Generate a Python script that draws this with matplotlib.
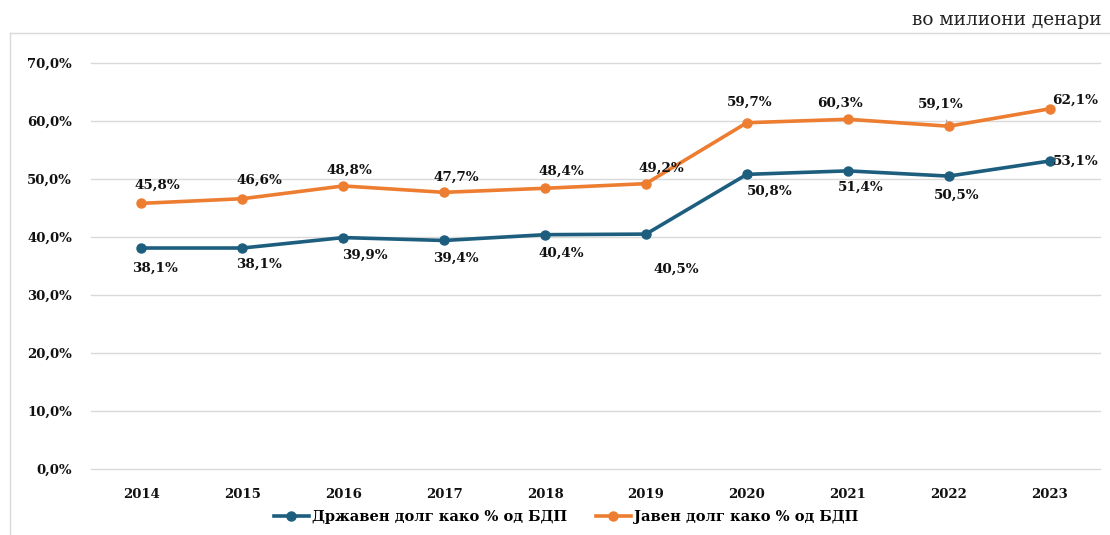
import matplotlib.pyplot as plt
from matplotlib.lines import Line2D

years = ['2014', '2015', '2016', '2017', '2018', '2019', '2020', '2021', '2022', '2023']
drzaven = [38.1, 38.1, 39.9, 39.4, 40.4, 40.5, 50.8, 51.4, 50.5, 53.1]
javen = [45.8, 46.6, 48.8, 47.7, 48.4, 49.2, 59.7, 60.3, 59.1, 62.1]
yticks = [0, 10, 20, 30, 40, 50, 60, 70]

BLUE = '#1d5e7e'
ORANGE = '#ed7d31'
FONT = 'DejaVu Serif'
FS = 9.7

# label offsets in pixels (dx, dy)
off_blue = [(14, -20), (17, -16), (22, -18), (12, -18), (16, -19),
            (30, -35), (23, -17), (13, -16), (8, -19), (26, 0)]
off_orange = [(16, 18), (17, 18), (6, 16), (12, 15), (16, 17),
              (15, 15), (3, 20), (-8, 16), (-8, 22), (26, 9)]

fig = plt.figure(figsize=(11.1, 5.35), dpi=100)
ax = fig.add_axes([91 / 1110, 66 / 535, 1009 / 1110, 406 / 535])

x = range(len(years))
ax.plot(x, drzaven, color=BLUE, lw=2.6, marker='o', ms=6.5, zorder=3)
ax.plot(x, javen, color=ORANGE, lw=2.6, marker='o', ms=6.5, zorder=3)

fmt = lambda v: f'{v:.1f}%'.replace('.', ',')
for i, v in enumerate(drzaven):
    ax.annotate(fmt(v), (i, v), xytext=off_blue[i], textcoords='offset pixels',
                ha='center', va='center', fontsize=FS, fontweight='bold',
                family=FONT, color='#111111')
for i, v in enumerate(javen):
    kw = {}
    if i in (6, 8):
        kw['arrowprops'] = dict(arrowstyle='-', color='#a6a6a6', lw=0.8,
                                shrinkA=5, shrinkB=2)
    ax.annotate(fmt(v), (i, v), xytext=off_orange[i], textcoords='offset pixels',
                ha='center', va='center', fontsize=FS, fontweight='bold',
                family=FONT, color='#111111', **kw)

ax.set_xlim(-0.5, len(years) - 0.5)
ax.set_ylim(0, 70)
ax.set_xticks(list(x))
ax.set_xticklabels(years)
ax.set_yticks(yticks)
ax.set_yticklabels([f'{t},0%' for t in yticks])
ax.grid(axis='y', color='#d9d9d9', lw=1)
for gl in ax.get_ygridlines():
    gl.set_clip_on(False)
ax.set_axisbelow(True)
for s in ax.spines.values():
    s.set_visible(False)
ax.tick_params(length=0)
ax.tick_params(axis='y', pad=13.5)
ax.tick_params(axis='x', pad=14)
for lab in ax.get_xticklabels() + ax.get_yticklabels():
    lab.set_fontfamily(FONT)
    lab.set_fontweight('bold')
    lab.set_fontsize(9.5)
    lab.set_color('#111111')

handles = [Line2D([], [], color=BLUE, lw=2.6, marker='o', ms=6.5),
           Line2D([], [], color=ORANGE, lw=2.6, marker='o', ms=6.5)]
fig.legend(handles, ['Државен долг како % од БДП', 'Јавен долг како % од БДП'],
           loc='center', bbox_to_anchor=(566 / 1110, 1 - 517 / 535), ncol=2,
           frameon=False, prop={'family': FONT, 'weight': 'bold', 'size': 10.5},
           handlelength=2.4, handletextpad=0.2, columnspacing=2.0)

# outer frame (top and left edges visible)
fig.add_artist(Line2D([10 / 1110, 1], [1 - 33 / 535, 1 - 33 / 535],
                      color='#d9d9d9', lw=1, transform=fig.transFigure))
fig.add_artist(Line2D([10 / 1110, 10 / 1110], [0, 1 - 33 / 535],
                      color='#d9d9d9', lw=1, transform=fig.transFigure))

fig.text(1102 / 1110, 1 - 20 / 535, 'во милиони денари', ha='right', va='center',
         fontsize=13.3, family=FONT, color='#222222')

fig.savefig('out.png', dpi=100)
